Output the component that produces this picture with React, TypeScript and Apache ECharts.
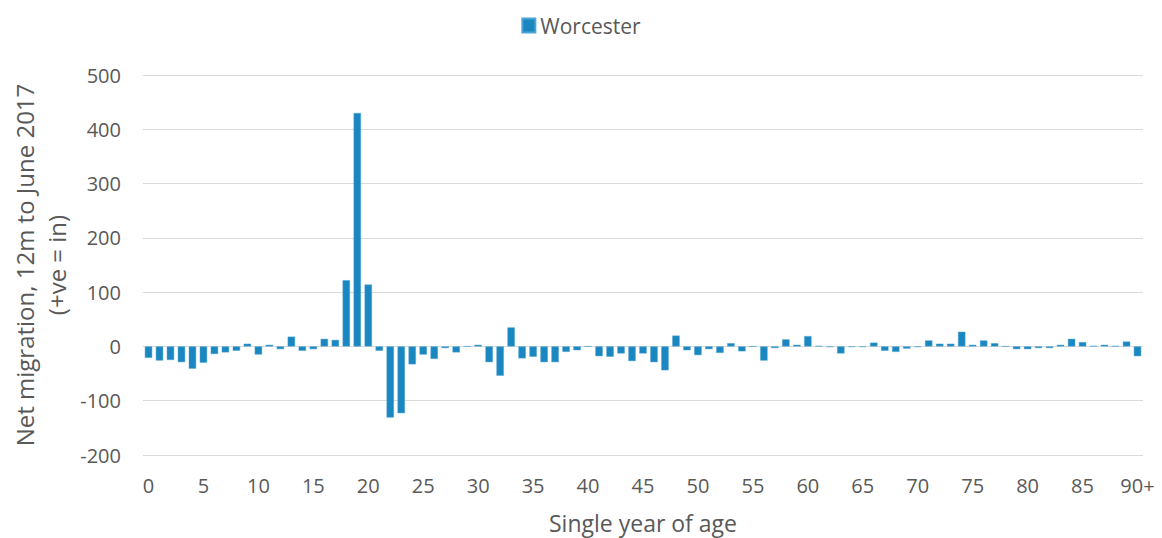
import React, { useEffect, useRef } from "react";
import * as echarts from "echarts";

const ages: string[] = Array.from({ length: 91 }, (_, i) => (i === 90 ? "90+" : String(i)));

const worcester: number[] = [
  -21, -26, -25, -29, -41, -30, -14, -11, -8, 5,
  -15, 3, -5, 18, -8, -5, 14, 12, 122, 430,
  114, -8, -131, -123, -33, -15, -23, -3, -11, 0,
  3, -29, -54, 35, -22, -19, -29, -29, -10, -7,
  0, -18, -19, -13, -27, -13, -29, -44, 20, -7,
  -16, -5, -12, 6, -9, 0, -26, -3, 13, 3,
  19, 1, -1, -13, -1, -1, 7, -8, -10, -4,
  -1, 11, 5, 5, 27, 3, 11, 6, 0, -5,
  -5, -3, -3, 3, 14, 8, 1, 3, 1, 9,
  -18,
];

const yMin = -200;
const yMax = 500;
const yStep = 100;

const seriesName = "Worcester";
const xTitle = "Single year of age";
const yTitle = "Net migration, 12m to June 2017\n(+ve = in)";

export default function App() {
  const ref = useRef<HTMLDivElement>(null);
  useEffect(() => {
    if (!ref.current) return;
    const chart = echarts.init(ref.current, undefined, { renderer: "svg" });
    const textColor = "#595959";
    const font = "'Open Sans', 'Noto Sans', sans-serif";
    chart.setOption({
      animation: false,
      backgroundColor: "#ffffff",
      textStyle: { fontFamily: font },
      legend: {
        show: true,
        top: 10,
        left: "center",
        itemWidth: 13,
        itemHeight: 14,
        itemGap: 6,
        textStyle: { color: textColor, fontSize: 21, fontFamily: font },
        data: [{ name: seriesName, icon: "rect" }],
      },
      grid: {
        left: 143,
        right: 19,
        top: 75,
        bottom: 83,
        containLabel: false,
        outerBoundsMode: "none",
      },
      xAxis: {
        type: "category",
        data: ages,
        name: xTitle,
        nameLocation: "middle",
        nameGap: 56,
        nameTextStyle: { color: textColor, fontSize: 23, fontFamily: font },
        axisLine: { show: false, onZero: false },
        axisTick: { show: false },
        axisLabel: {
          interval: 4,
          color: textColor,
          fontSize: 20,
          margin: 20,
          fontFamily: font,
        },
        splitLine: { show: false },
      },
      yAxis: {
        type: "value",
        min: yMin,
        max: yMax,
        interval: yStep,
        axisLine: { show: false },
        axisTick: { show: false },
        axisLabel: { color: textColor, fontSize: 20, margin: 22, fontFamily: font },
        splitLine: { lineStyle: { color: "#d9d9d9", width: 1 } },
      },
      graphic: [
        {
          type: "text",
          x: 40,
          y: 265,
          rotation: Math.PI / 2,
          style: {
            text: yTitle,
            fill: textColor,
            font: `24px ${font}`,
            align: "center",
            verticalAlign: "middle",
            lineHeight: 32,
          },
        },
      ],
      series: [
        {
          name: seriesName,
          type: "bar",
          data: worcester,
          barCategoryGap: "33%",
          itemStyle: { color: "#1b87c0", borderColor: "#4da3d3", borderWidth: 0.5 },
        },
      ],
    });
    return () => chart.dispose();
  }, []);
  return (
    <div
      ref={ref}
      style={{ position: "fixed", left: 0, top: 0, width: 1162, height: 538 }}
    />
  );
}
